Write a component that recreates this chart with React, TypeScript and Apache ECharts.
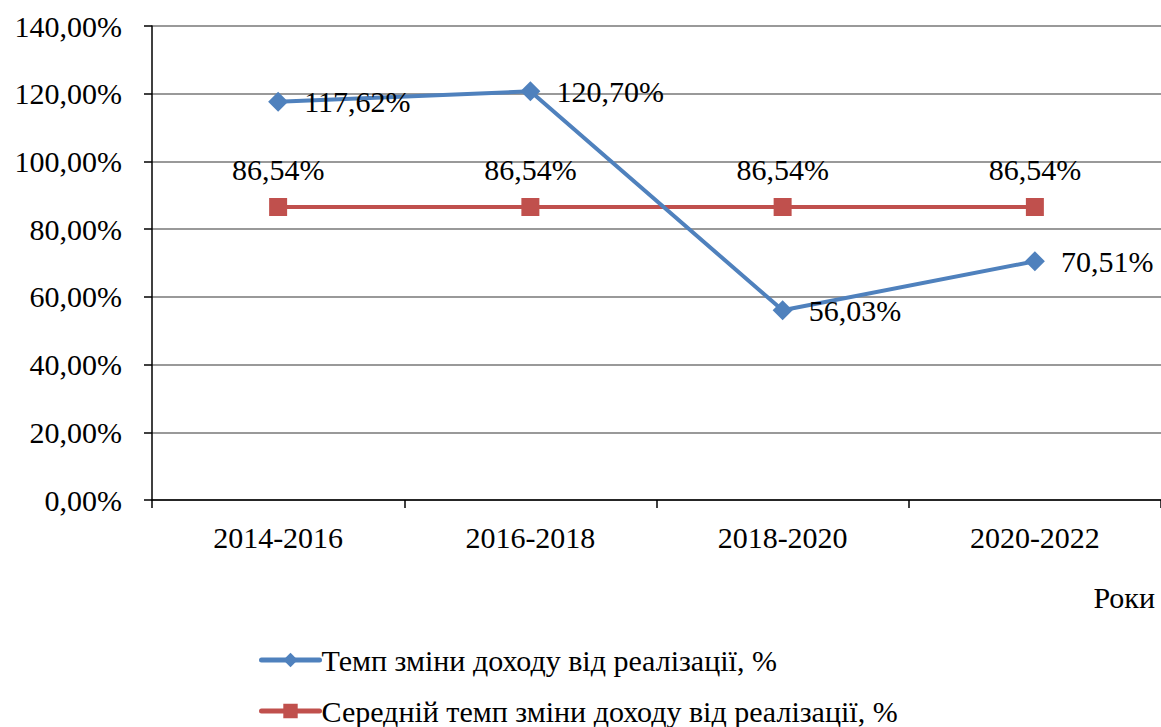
import React, { useEffect, useRef } from "react";
import * as echarts from "echarts";

const categories = ["2014-2016", "2016-2018", "2018-2020", "2020-2022"];
const rateValues = [117.62, 120.7, 56.03, 70.51];
const avgValues = [86.54, 86.54, 86.54, 86.54];
const seriesNames = [
  "Темп зміни доходу від реалізації, %",
  "Середній темп зміни доходу від реалізації, %",
];
const axisName = "Роки";

const FONT = "Liberation Serif";
const fmtPct = (v: number) => v.toFixed(2).replace(".", ",") + "%";

export default function App() {
  const ref = useRef<HTMLDivElement>(null);
  useEffect(() => {
    if (!ref.current) return;
    const chart = echarts.init(ref.current, null, { renderer: "svg" });
    const txt = { fontFamily: FONT, fontSize: 30, color: "#000", fontWeight: "normal" as const };
    const legendBase = {
      orient: "horizontal",
      left: 259,
      padding: 0,
      itemWidth: 58,
      itemHeight: 18,
      itemGap: 20,
      lineStyle: { width: 5, cap: "round" },
      textStyle: { ...txt, padding: [0, 0, 0, -3] },
    };
    chart.setOption({
      animation: false,
      backgroundColor: "#ffffff",
      textStyle: { fontFamily: FONT, color: "#000" },
      grid: { left: 152, top: 26, width: 1012, height: 474, containLabel: false },
      xAxis: {
        type: "category",
        data: categories,
        boundaryGap: true,
        axisLine: { lineStyle: { color: "#000", width: 1.5 } },
        axisTick: { show: true, length: 8, lineStyle: { color: "#000", width: 1.5 } },
        axisLabel: { ...txt, margin: 22 },
        splitLine: { show: false },
      },
      yAxis: {
        type: "value",
        min: 0,
        max: 140,
        interval: 20,
        axisLine: { show: true, lineStyle: { color: "#000", width: 1.5 } },
        axisTick: { show: true, length: 8, lineStyle: { color: "#000", width: 1.5 } },
        axisLabel: { ...txt, margin: 30, formatter: (v: number) => fmtPct(v) },
        splitLine: { show: true, lineStyle: { color: "#999", width: 2 } },
      },
      legend: [
        { ...legendBase, top: 645, data: [seriesNames[0]] },
        { ...legendBase, top: 696, data: [seriesNames[1]] },
      ],
      graphic: [
        {
          type: "text",
          right: 6,
          top: 582,
          style: { text: axisName, font: `30px ${FONT}`, fill: "#000" },
        },
      ],
      series: [
        {
          name: seriesNames[0],
          type: "line",
          data: rateValues,
          symbol: "diamond",
          symbolSize: 20,
          color: "#4f81bd",
          lineStyle: { width: 4, color: "#4f81bd" },
          itemStyle: { color: "#4f81bd" },
          label: {
            show: true,
            position: "right",
            distance: 16,
            ...txt,
            formatter: (p: any) => fmtPct(p.value),
          },
          z: 3,
        },
        {
          name: seriesNames[1],
          type: "line",
          data: avgValues,
          symbol: "rect",
          symbolSize: 18,
          color: "#c0504d",
          lineStyle: { width: 4, color: "#c0504d" },
          itemStyle: { color: "#c0504d" },
          label: {
            show: true,
            position: "top",
            distance: 14,
            ...txt,
            formatter: (p: any) => fmtPct(p.value),
          },
          z: 2,
        },
      ],
    });
    return () => chart.dispose();
  }, []);
  return (
    <div
      ref={ref}
      style={{ position: "fixed", left: 0, top: 0, width: 1161, height: 727, background: "#fff" }}
    />
  );
}
